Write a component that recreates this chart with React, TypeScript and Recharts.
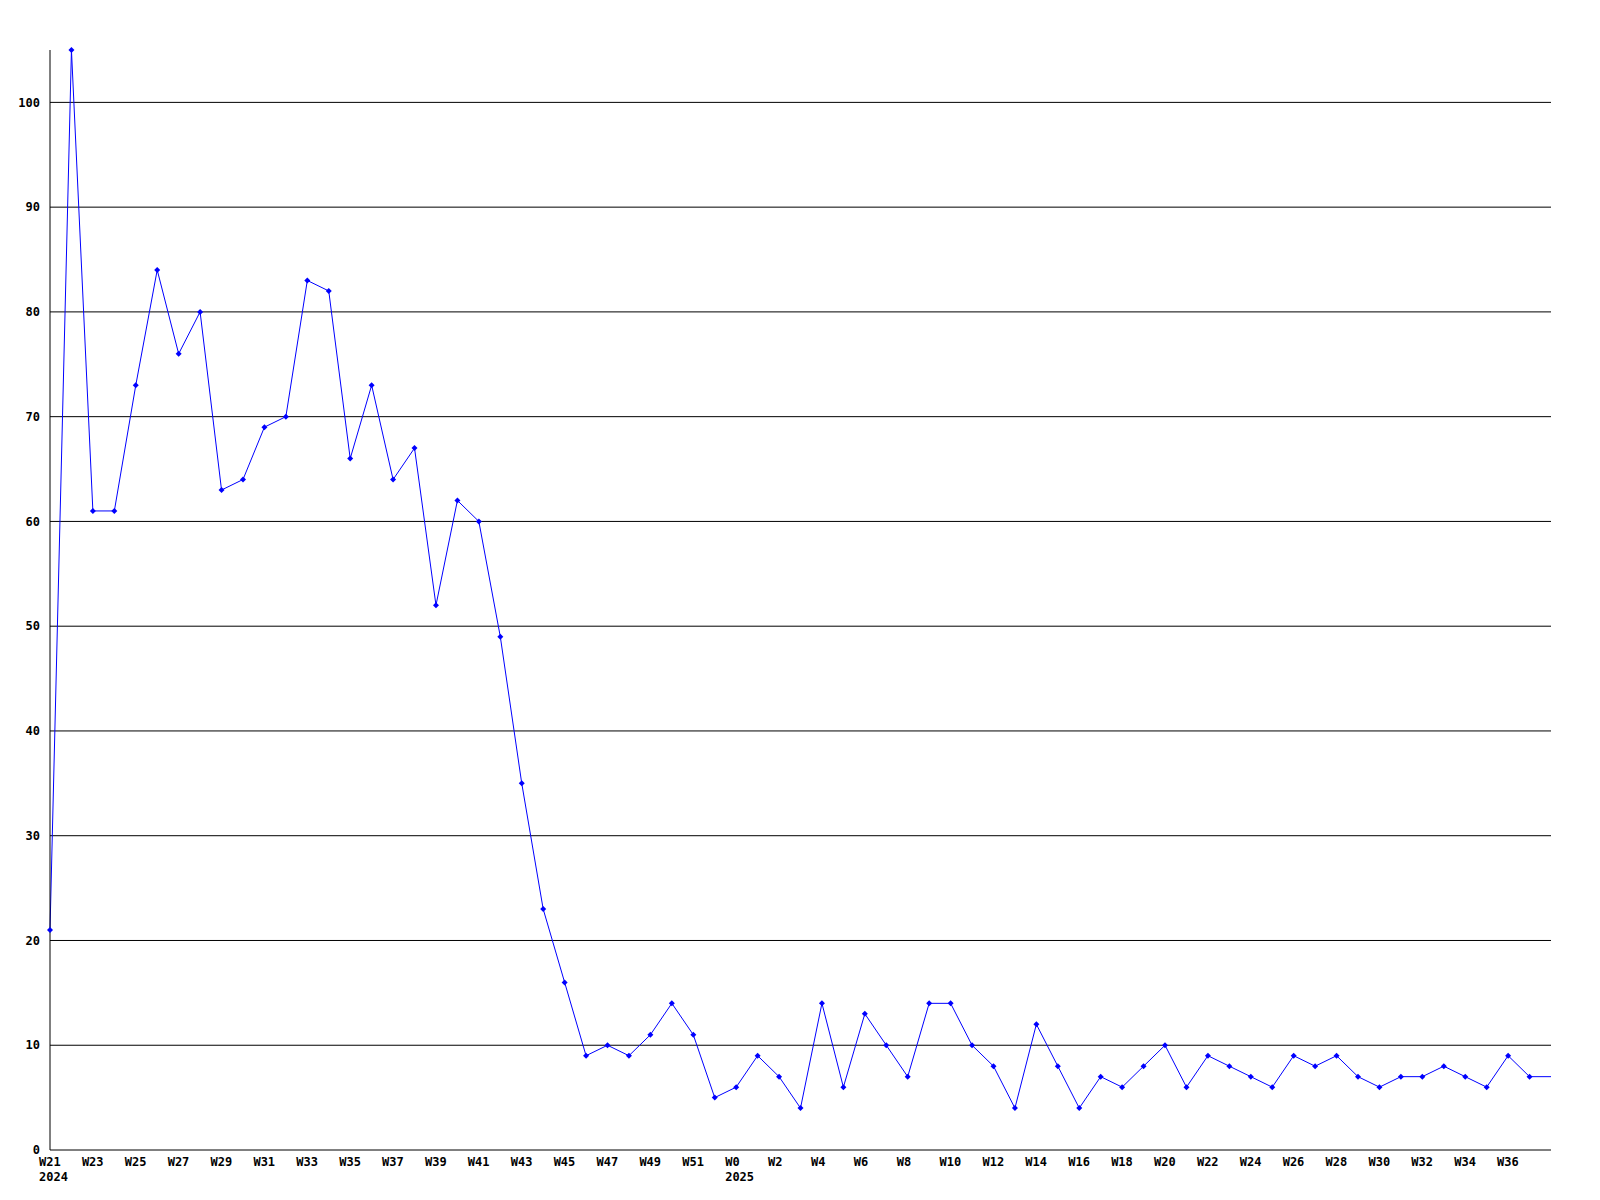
import { LineChart, Line, XAxis, YAxis, CartesianGrid } from "recharts";

const weeks2024 = [
  21, 22, 23, 24, 25, 26, 27, 28, 29, 30, 31, 32, 33, 34, 35, 36,
  37, 38, 39, 40, 41, 42, 43, 44, 45, 46, 47, 48, 49, 50, 51, 52,
];
const values2024 = [
  21, 105, 61, 61, 73, 84, 76, 80, 63, 64, 69, 70, 83, 82, 66, 73,
  64, 67, 52, 62, 60, 49, 35, 23, 16, 9, 10, 9, 11, 14, 11, 5,
];

const weeks2025 = [
  0, 1, 2, 3, 4, 5, 6, 7, 8, 9, 10, 11, 12, 13, 14, 15, 16, 17, 18, 19,
  20, 21, 22, 23, 24, 25, 26, 27, 28, 29, 30, 31, 32, 33, 34, 35, 36, 37, 38,
];
const values2025 = [
  6, 9, 7, 4, 14, 6, 13, 10, 7, 14, 14, 10, 8, 4, 12, 8, 4, 7, 6, 8,
  10, 6, 9, 8, 7, 6, 9, 8, 9, 7, 6, 7, 7, 8, 7, 6, 9, 7, 7,
];

const yTicks = [0, 10, 20, 30, 40, 50, 60, 70, 80, 90, 100];
const gridValues = [10, 20, 30, 40, 50, 60, 70, 80, 90, 100];

const data = [
  ...weeks2024.map((w, i) => ({
    week: "W" + w,
    year: i === 0 ? "2024" : "",
    count: values2024[i],
  })),
  ...weeks2025.map((w, i) => ({
    week: "W" + w,
    year: i === 0 ? "2025" : "",
    count: values2025[i],
  })),
];

const FONT = "'DejaVu Sans Mono', monospace";

function WeekTick(props: any) {
  const { x, y, payload } = props;
  const idx = payload.index;
  if (idx === data.length - 1) return <g />;
  const row = data[idx];
  return (
    <g>
      <text x={x - 11} y={y + 16} fontFamily={FONT} fontWeight="bold" fontSize={12} fill="#000" textAnchor="start">
        {row.week}
      </text>
      {row.year && (
        <text x={x - 11} y={y + 31} fontFamily={FONT} fontWeight="bold" fontSize={12} fill="#000" textAnchor="start">
          {row.year}
        </text>
      )}
    </g>
  );
}

function Marker(props: any) {
  const { cx, cy, index } = props;
  if (index === data.length - 1 || cx == null) return <g key={"d" + index} />;
  return (
    <path
      key={"d" + index}
      d={`M${cx - 3},${cy} L${cx},${cy - 3} L${cx + 3},${cy} L${cx},${cy + 3} Z`}
      fill="#0000ff"
      stroke="none"
    />
  );
}

export default function App() {
  return (
    <div style={{ position: "absolute", left: 0, top: 0, width: 1600, height: 1200, background: "#fff" }}>
      <LineChart width={1600} height={1200} data={data} margin={{ top: 50, right: 49, bottom: 0, left: 0 }}>
        <CartesianGrid
          vertical={false}
          horizontalValues={gridValues}
          syncWithTicks={false}
          stroke="#000"
          strokeWidth={1}
        />
        <XAxis
          dataKey="week"
          height={50}
          interval={1}
          tickSize={0}
          tickMargin={0}
          tickLine={false}
          axisLine={{ stroke: "#000", strokeWidth: 1 }}
          tick={(p: any) => <WeekTick {...p} />}
        />
        <YAxis
          width={50}
          domain={[0, 105]}
          ticks={yTicks}
          interval={0}
          tickLine={false}
          tickSize={8}
          tickMargin={2}
          axisLine={{ stroke: "#000", strokeWidth: 1 }}
          tick={{ fontFamily: FONT, fontWeight: "bold", fontSize: 12, fill: "#000" }}
        />
        <Line
          type="linear"
          dataKey="count"
          stroke="#0000ff"
          strokeWidth={1}
          dot={(p: any) => <Marker key={"m" + p.index} {...p} />}
          activeDot={false}
          isAnimationActive={false}
        />
      </LineChart>
    </div>
  );
}
